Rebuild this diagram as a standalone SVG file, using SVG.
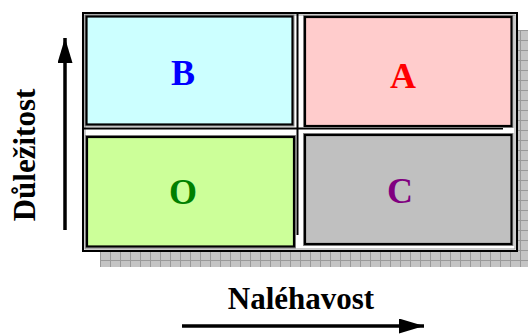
<svg xmlns="http://www.w3.org/2000/svg" width="528" height="336" viewBox="0 0 528 336">
<defs>
<pattern id="grid" x="100" y="30" width="10" height="10" patternUnits="userSpaceOnUse">
<rect width="10" height="10" fill="#c4c4c4"/>
<path d="M0 0.5H10M0.5 0V10" stroke="#999" stroke-width="1"/>
</pattern>
<marker id="ah" viewBox="0 0 10 10" refX="10" refY="5" markerWidth="25" markerHeight="15" markerUnits="userSpaceOnUse" orient="auto" preserveAspectRatio="none">
<path d="M0 0L10 5L0 10Z" fill="#000"/>
</marker>
</defs>
<style>
.box{stroke:#000;stroke-width:2.2}
.halo{fill:none;stroke:#888;stroke-width:1}
.letter{font-family:"Liberation Serif","Times New Roman",serif;font-weight:bold;font-size:36px;text-anchor:middle}
.axis{font-family:"Liberation Serif","Times New Roman",serif;font-weight:bold;font-size:31px;text-anchor:middle;fill:#000}
.conn{stroke:#000;stroke-width:3.5;fill:none}
.div{stroke:#000;stroke-width:2;fill:none}
</style>
<rect x="100" y="30" width="428" height="237" fill="url(#grid)"/>
<g id="frame">
<rect x="83" y="13" width="434" height="238" fill="#fff" stroke="#000" stroke-width="2"/>
<rect x="85" y="15" width="430" height="234" fill="none" stroke="#999" stroke-width="1"/>
<path class="div" d="M297.5 13V235M84 128.5H503"/>
</g>
<g id="node-B">
<rect class="halo" x="85" y="15" width="209" height="111"/>
<rect class="box" x="86.5" y="16.5" width="206" height="108" fill="#ccffff"/>
<text class="letter" x="183" y="84.5" fill="#0000ff">B</text>
</g>
<g id="node-A">
<rect class="halo" x="303.5" y="15.5" width="209.5" height="112"/>
<rect class="box" x="305" y="17" width="206.5" height="109" fill="#ffcccc"/>
<text class="letter" x="403" y="88" fill="#ff0000">A</text>
</g>
<g id="node-O">
<rect class="halo" x="85.5" y="135.5" width="210" height="112.5"/>
<rect class="box" x="87" y="137" width="207" height="109.5" fill="#ccff99"/>
<text class="letter" x="183" y="204" fill="#008000">O</text>
</g>
<g id="node-C">
<rect class="halo" x="303.5" y="133.5" width="209.5" height="112"/>
<rect class="box" x="305" y="135" width="206.5" height="109" fill="#c0c0c0"/>
<text class="letter" x="400" y="202.5" fill="#800080">C</text>
</g>
<g id="connectors">
<line class="conn" x1="65" y1="230" x2="65" y2="38" marker-end="url(#ah)"/>
<line class="conn" x1="182" y1="326" x2="424" y2="326" marker-end="url(#ah)"/>
</g>
<text class="axis" transform="translate(35,155) rotate(-90)">Důležitost</text>
<text class="axis" x="301" y="309">Naléhavost</text>
</svg>
